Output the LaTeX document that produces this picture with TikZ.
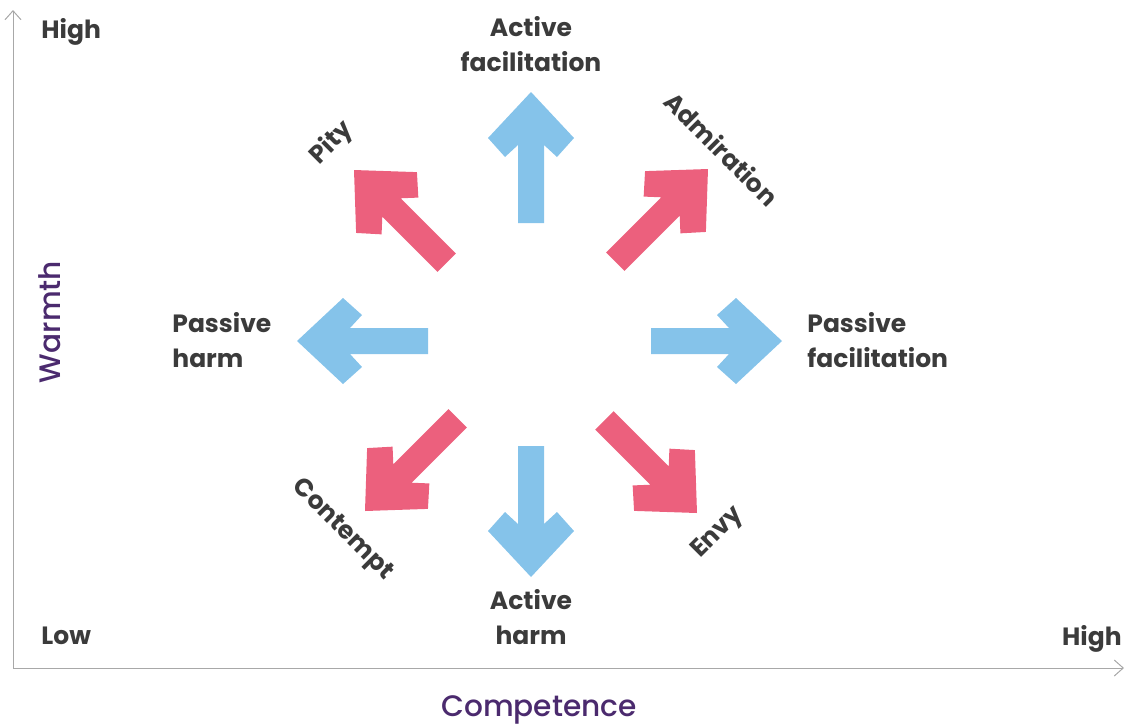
\documentclass[tikz,border=0pt]{standalone}
\usepackage{fontspec}
\setmainfont{Poppins}
\newfontfamily\axisfont{Poppins Medium}
\usetikzlibrary{arrows.meta}

\definecolor{factblue}{HTML}{85C3EA}
\definecolor{emopink}{HTML}{EC607D}
\definecolor{axispurple}{HTML}{4B2A6E}
\definecolor{labelgray}{HTML}{3B3B3B}
\definecolor{axisgray}{HTML}{A8A8A8}

\tikzset{
  blockarrow/.pic={
    \fill[#1] (0,0) -- (-46,43) -- (-65,26) -- (-53,13) -- (-131,13)
      -- (-131,-13) -- (-53,-13) -- (-65,-26) -- (-46,-43) -- cycle;
  },
  lbl/.style={text=labelgray, font=\bfseries\fontsize{12.5}{17.5}\selectfont, inner sep=0pt},
  axislbl/.style={text=axispurple, font=\axisfont\fontsize{14.8}{18}\selectfont, inner sep=0pt},
  axisline/.style={draw=axisgray, line width=0.5pt, -{Straight Barb[length=4.5pt,width=8pt]}}
}

\begin{document}
\begin{tikzpicture}[x=0.5pt,y=-0.5pt]
	\useasboundingbox (0,0) rectangle (1125,725);

	% axes
	\coordinate (origin) at (13,668);
	\coordinate (ytop) at (13,10);
	\coordinate (xend) at (1124,668);
	\draw [axisline] (origin) -- (ytop);
	\draw [axisline] (origin) -- (xend);

	% behaviours (blue) and emotions (pink)
	\pic [rotate=90]   at (531,92)  {blockarrow=factblue};
	\pic [rotate=-90]  at (531,577) {blockarrow=factblue};
	\pic [rotate=180]  at (297,341) {blockarrow=factblue};
	\pic [rotate=0]    at (782,341) {blockarrow=factblue};
	\pic [rotate=45]   at (708,169) {blockarrow=emopink};
	\pic [rotate=135]  at (354,170) {blockarrow=emopink};
	\pic [rotate=-135] at (365,511) {blockarrow=emopink};
	\pic [rotate=-45]  at (697,513) {blockarrow=emopink};

	\node (actfac) [lbl, align=center] at (531,44) {Active\\facilitation};
	\node (actharm) [lbl, align=center] at (531,617) {Active\\harm};
	\node (pasfac) [lbl, align=left, anchor=west] at (807,340) {Passive\\facilitation};
	\node (pasharm) [lbl, align=left, anchor=west] at (172,340) {Passive\\harm};

	\node (pity) [lbl, rotate=45] at (332,143) {Pity};
	\node (admiration) [lbl, rotate=-45] at (722,149) {Admiration};
	\node (contempt) [lbl, rotate=-45] at (342,530) {Contempt};
	\node (envy) [lbl, rotate=45] at (718,533) {Envy};

	\node (highw) [lbl, anchor=base west] at (41,38) {High};
	\node (loww) [lbl, anchor=base west] at (41,644) {Low};
	\node (highc) [lbl, anchor=base east] at (1122,645) {High};

	\node (competence) [axislbl, anchor=base] at (539,716) {Competence};
	\node (warmth) [axislbl, anchor=base, rotate=90] at (61,322) {Warmth};
\end{tikzpicture}
\end{document}
